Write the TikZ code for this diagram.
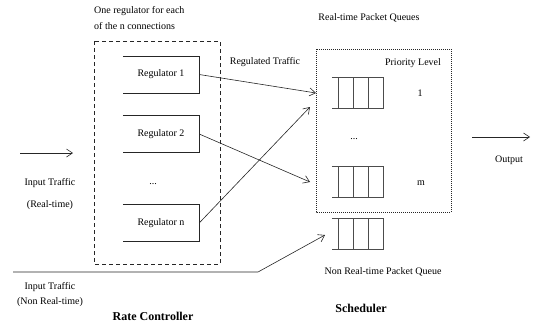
\documentclass[tikz,border=0pt]{standalone}
\usepackage{fontspec}
\setmainfont{Liberation Serif}
\usetikzlibrary{arrows.meta}
\tikzset{
  x=1pt, y=-1pt,
  lbl/.style={inner sep=0pt, font=\fontsize{10}{12}\selectfont},
  ttl/.style={inner sep=0pt, font=\fontsize{12}{14}\selectfont\bfseries},
  reg/.style={inner sep=0pt, minimum width=76pt, minimum height=37pt, font=\fontsize{10}{12}\selectfont},
  queue/.style={inner sep=0pt, minimum width=51pt, minimum height=30pt},
  wire/.style={draw=black!85, line width=0.6pt},
  flow/.style={wire, -{Straight Barb[length=6pt, width=8pt]}},
  qline/.style={draw=black!70, line width=0.7pt}
}
% three-sided regulator outline, open on the left
\newcommand{\regbox}[1]{\draw[wire] (#1.north west) -- (#1.north east) -- (#1.south east) -- (#1.south west);}
% packet queue: open on the left, with three cell dividers
\newcommand{\pktqueue}[1]{%
  \draw[qline] (#1.north west) -- (#1.north east) -- (#1.south east) -- (#1.south west);
  \foreach \dx in {7,22,37} \draw[qline] ([xshift=\dx pt]#1.north west) -- ([xshift=\dx pt]#1.south west);}
\begin{document}
\begin{tikzpicture}
\useasboundingbox (0,0) rectangle (534,325);

% rate controller
\draw[wire, dash pattern=on 4pt off 3pt] (94,41) rectangle (220,264);
\node[lbl, anchor=west] (hdr1) at (94,11) {One regulator for each};
\node[lbl, anchor=west] (hdr2) at (94,26) {of the n connections};
\node[reg] (reg1) at (161,74.5) {Regulator 1};
\node[reg] (reg2) at (161,134) {Regulator 2};
\node[reg] (regn) at (161,223) {Regulator n};
\node[lbl] (regdots) at (153,184) {...};
\regbox{reg1}
\regbox{reg2}
\regbox{regn}

% scheduler
\draw[wire, dash pattern=on 1pt off 1pt] (316,49) rectangle (451,212);
\node[lbl] (rtq) at (369,18) {Real-time Packet Queues};
\node[lbl] (prio) at (413,63) {Priority Level};
\node[queue] (q1) at (357.5,93) {};
\node[queue] (qm) at (357.5,182) {};
\node[queue] (qn) at (357.5,234) {};
\pktqueue{q1}
\pktqueue{qm}
\pktqueue{qn}
\node[lbl] (p1) at (420,93) {1};
\node[lbl] (pm) at (421,183) {m};
\node[lbl] (qdots) at (354,139) {...};
\node[lbl] (nrtq) at (383,272) {Non Real-time Packet Queue};

% inputs
\coordinate (inA) at (20,153);
\coordinate (inB) at (73,153);
\draw[flow] (inA) -- (inB);
\node[lbl] (inrt1) at (50,183) {Input Traffic};
\node[lbl] (inrt2) at (50,205) {(Real-time)};
\coordinate (nrtA) at (13,272);
\coordinate (nrtB) at (258,272);
\coordinate (nrtC) at (325,235);
\draw[flow] (nrtA) -- (nrtB) -- (nrtC);
\node[lbl] (innrt1) at (50,287) {Input Traffic};
\node[lbl] (innrt2) at (50,302) {(Non Real-time)};

% regulated traffic
\node[lbl] (regtr) at (265,62) {Regulated Traffic};
\coordinate (t1) at (316,93);
\coordinate (t2) at (310,182);
\coordinate (tn) at (310,107);
\draw[flow] (reg1.east) -- (t1);
\draw[flow] (reg2.east) -- (t2);
\draw[flow] (regn.east) -- (tn);

% output
\coordinate (outA) at (472,137);
\coordinate (outB) at (530,137);
\draw[flow] (outA) -- (outB);
\node[lbl] (outl) at (509,160) {Output};

% titles
\node[ttl] (rc) at (153,316) {Rate Controller};
\node[ttl] (sch) at (361,308) {Scheduler};
\end{tikzpicture}
\end{document}
